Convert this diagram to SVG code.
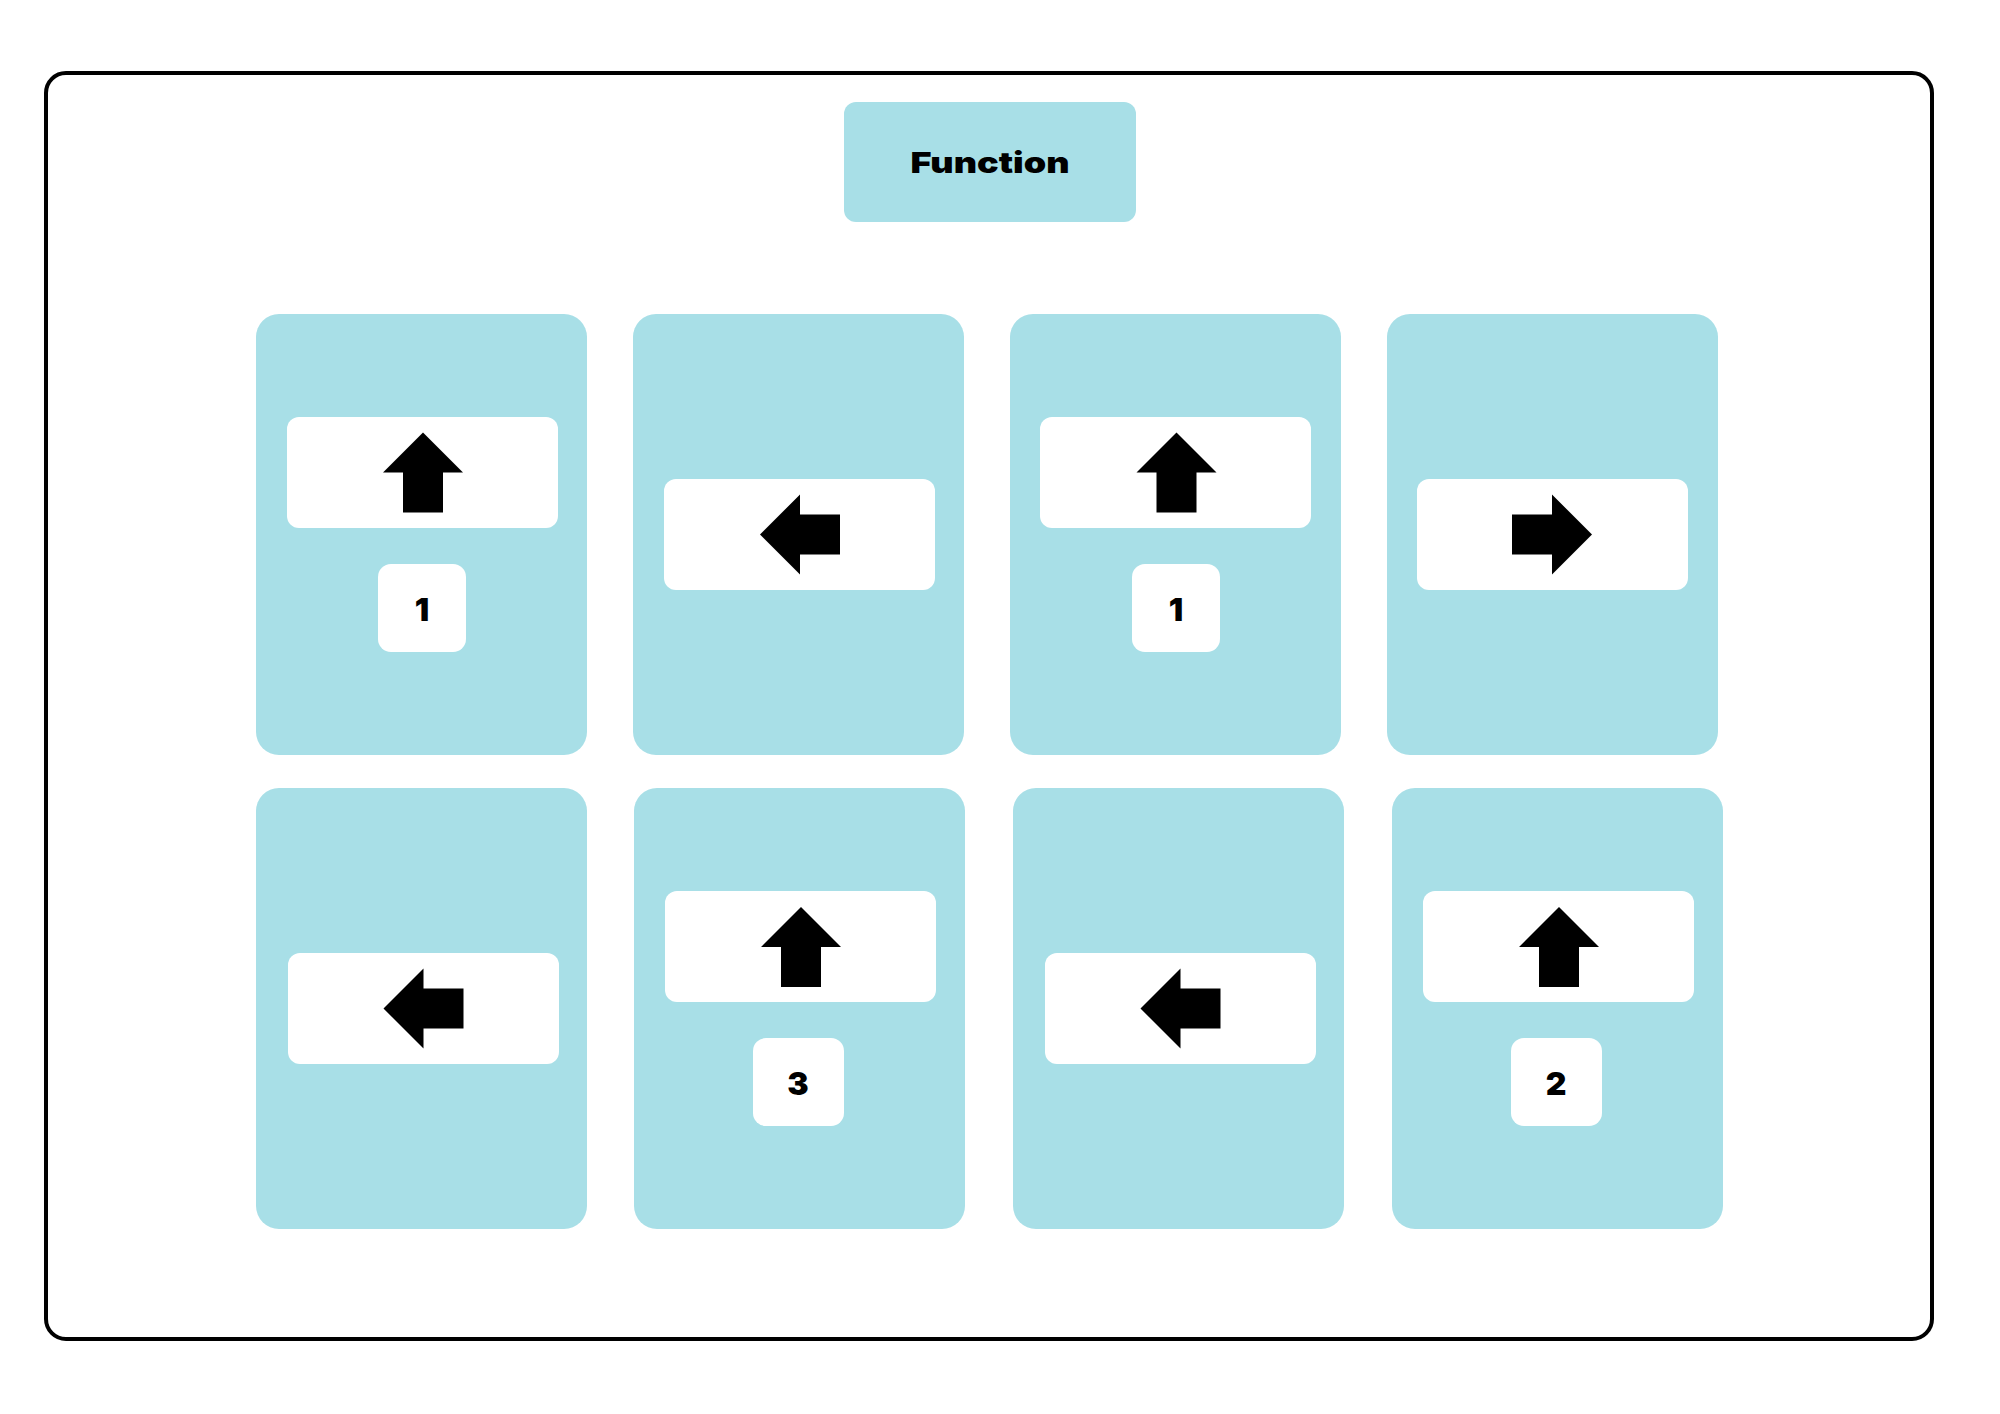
<svg xmlns="http://www.w3.org/2000/svg" xmlns:xlink="http://www.w3.org/1999/xlink" width="2000" height="1414" viewBox="0 0 2000 1414">
  <style>
    .frame { fill: #ffffff; stroke: #000000; stroke-width: 4; }
    .card { fill: #A8DFE7; }
    .title { fill: #A8DFE7; }
    .inner { fill: #ffffff; }
    .num { fill: #ffffff; }
    .arrow { fill: #000000; }
    .t { font-family: Inter, "Liberation Sans", "DejaVu Sans", sans-serif; font-weight: 900; fill: #000000; text-anchor: middle; }
    .tt { font-size: 29px; }
    .tn { font-size: 32px; }
  </style>
  <defs>
    <path id="arrowUp" d="M0,-40 L40,0 L20,0 L20,40 L-20,40 L-20,0 L-40,0 Z"/>
    <path id="arrowLeft" d="M-40,0 L0,-40 L0,-20 L40,-20 L40,20 L0,20 L0,40 Z"/>
    <path id="arrowRight" d="M40,0 L0,-40 L0,-20 L-40,-20 L-40,20 L0,20 L0,40 Z"/>
  </defs>
  <rect width="2000" height="1414" fill="#ffffff"/>
  <rect class="frame" x="46" y="73" width="1886" height="1266" rx="20" ry="20"/>

  <g id="title">
    <rect class="title" x="844" y="102" width="292" height="120" rx="12" ry="12"/>
    <text class="t tt" x="990" y="173" textLength="159" lengthAdjust="spacingAndGlyphs">Function</text>
  </g>

  <g id="card1">
    <rect class="card" x="256" y="314" width="331" height="441" rx="23" ry="23"/>
    <rect class="inner" x="287" y="417" width="271" height="111" rx="12" ry="12"/>
    <use xlink:href="#arrowUp" class="arrow" transform="translate(423,472.5)"/>
    <rect class="num" x="378" y="564" width="88" height="88" rx="13" ry="13"/>
    <text class="t tn" x="422" y="621">1</text>
  </g>

  <g id="card2">
    <rect class="card" x="633" y="314" width="331" height="441" rx="23" ry="23"/>
    <rect class="inner" x="664" y="479" width="271" height="111" rx="12" ry="12"/>
    <use xlink:href="#arrowLeft" class="arrow" transform="translate(800,534.5)"/>
  </g>

  <g id="card3">
    <rect class="card" x="1010" y="314" width="331" height="441" rx="23" ry="23"/>
    <rect class="inner" x="1040" y="417" width="271" height="111" rx="12" ry="12"/>
    <use xlink:href="#arrowUp" class="arrow" transform="translate(1176.5,472.5)"/>
    <rect class="num" x="1132" y="564" width="88" height="88" rx="13" ry="13"/>
    <text class="t tn" x="1176" y="621">1</text>
  </g>

  <g id="card4">
    <rect class="card" x="1387" y="314" width="331" height="441" rx="23" ry="23"/>
    <rect class="inner" x="1417" y="479" width="271" height="111" rx="12" ry="12"/>
    <use xlink:href="#arrowRight" class="arrow" transform="translate(1552,534.5)"/>
  </g>

  <g id="card5">
    <rect class="card" x="256" y="788" width="331" height="441" rx="23" ry="23"/>
    <rect class="inner" x="288" y="953" width="271" height="111" rx="12" ry="12"/>
    <use xlink:href="#arrowLeft" class="arrow" transform="translate(423.5,1008.5)"/>
  </g>

  <g id="card6">
    <rect class="card" x="634" y="788" width="331" height="441" rx="23" ry="23"/>
    <rect class="inner" x="665" y="891" width="271" height="111" rx="12" ry="12"/>
    <use xlink:href="#arrowUp" class="arrow" transform="translate(801,947)"/>
    <rect class="num" x="753" y="1038" width="91" height="88" rx="13" ry="13"/>
    <text class="t tn" x="798" y="1095">3</text>
  </g>

  <g id="card7">
    <rect class="card" x="1013" y="788" width="331" height="441" rx="23" ry="23"/>
    <rect class="inner" x="1045" y="953" width="271" height="111" rx="12" ry="12"/>
    <use xlink:href="#arrowLeft" class="arrow" transform="translate(1180.5,1008.5)"/>
  </g>

  <g id="card8">
    <rect class="card" x="1392" y="788" width="331" height="441" rx="23" ry="23"/>
    <rect class="inner" x="1423" y="891" width="271" height="111" rx="12" ry="12"/>
    <use xlink:href="#arrowUp" class="arrow" transform="translate(1559,947)"/>
    <rect class="num" x="1511" y="1038" width="91" height="88" rx="13" ry="13"/>
    <text class="t tn" x="1556" y="1095">2</text>
  </g>

  <g id="connectors"></g>
</svg>
